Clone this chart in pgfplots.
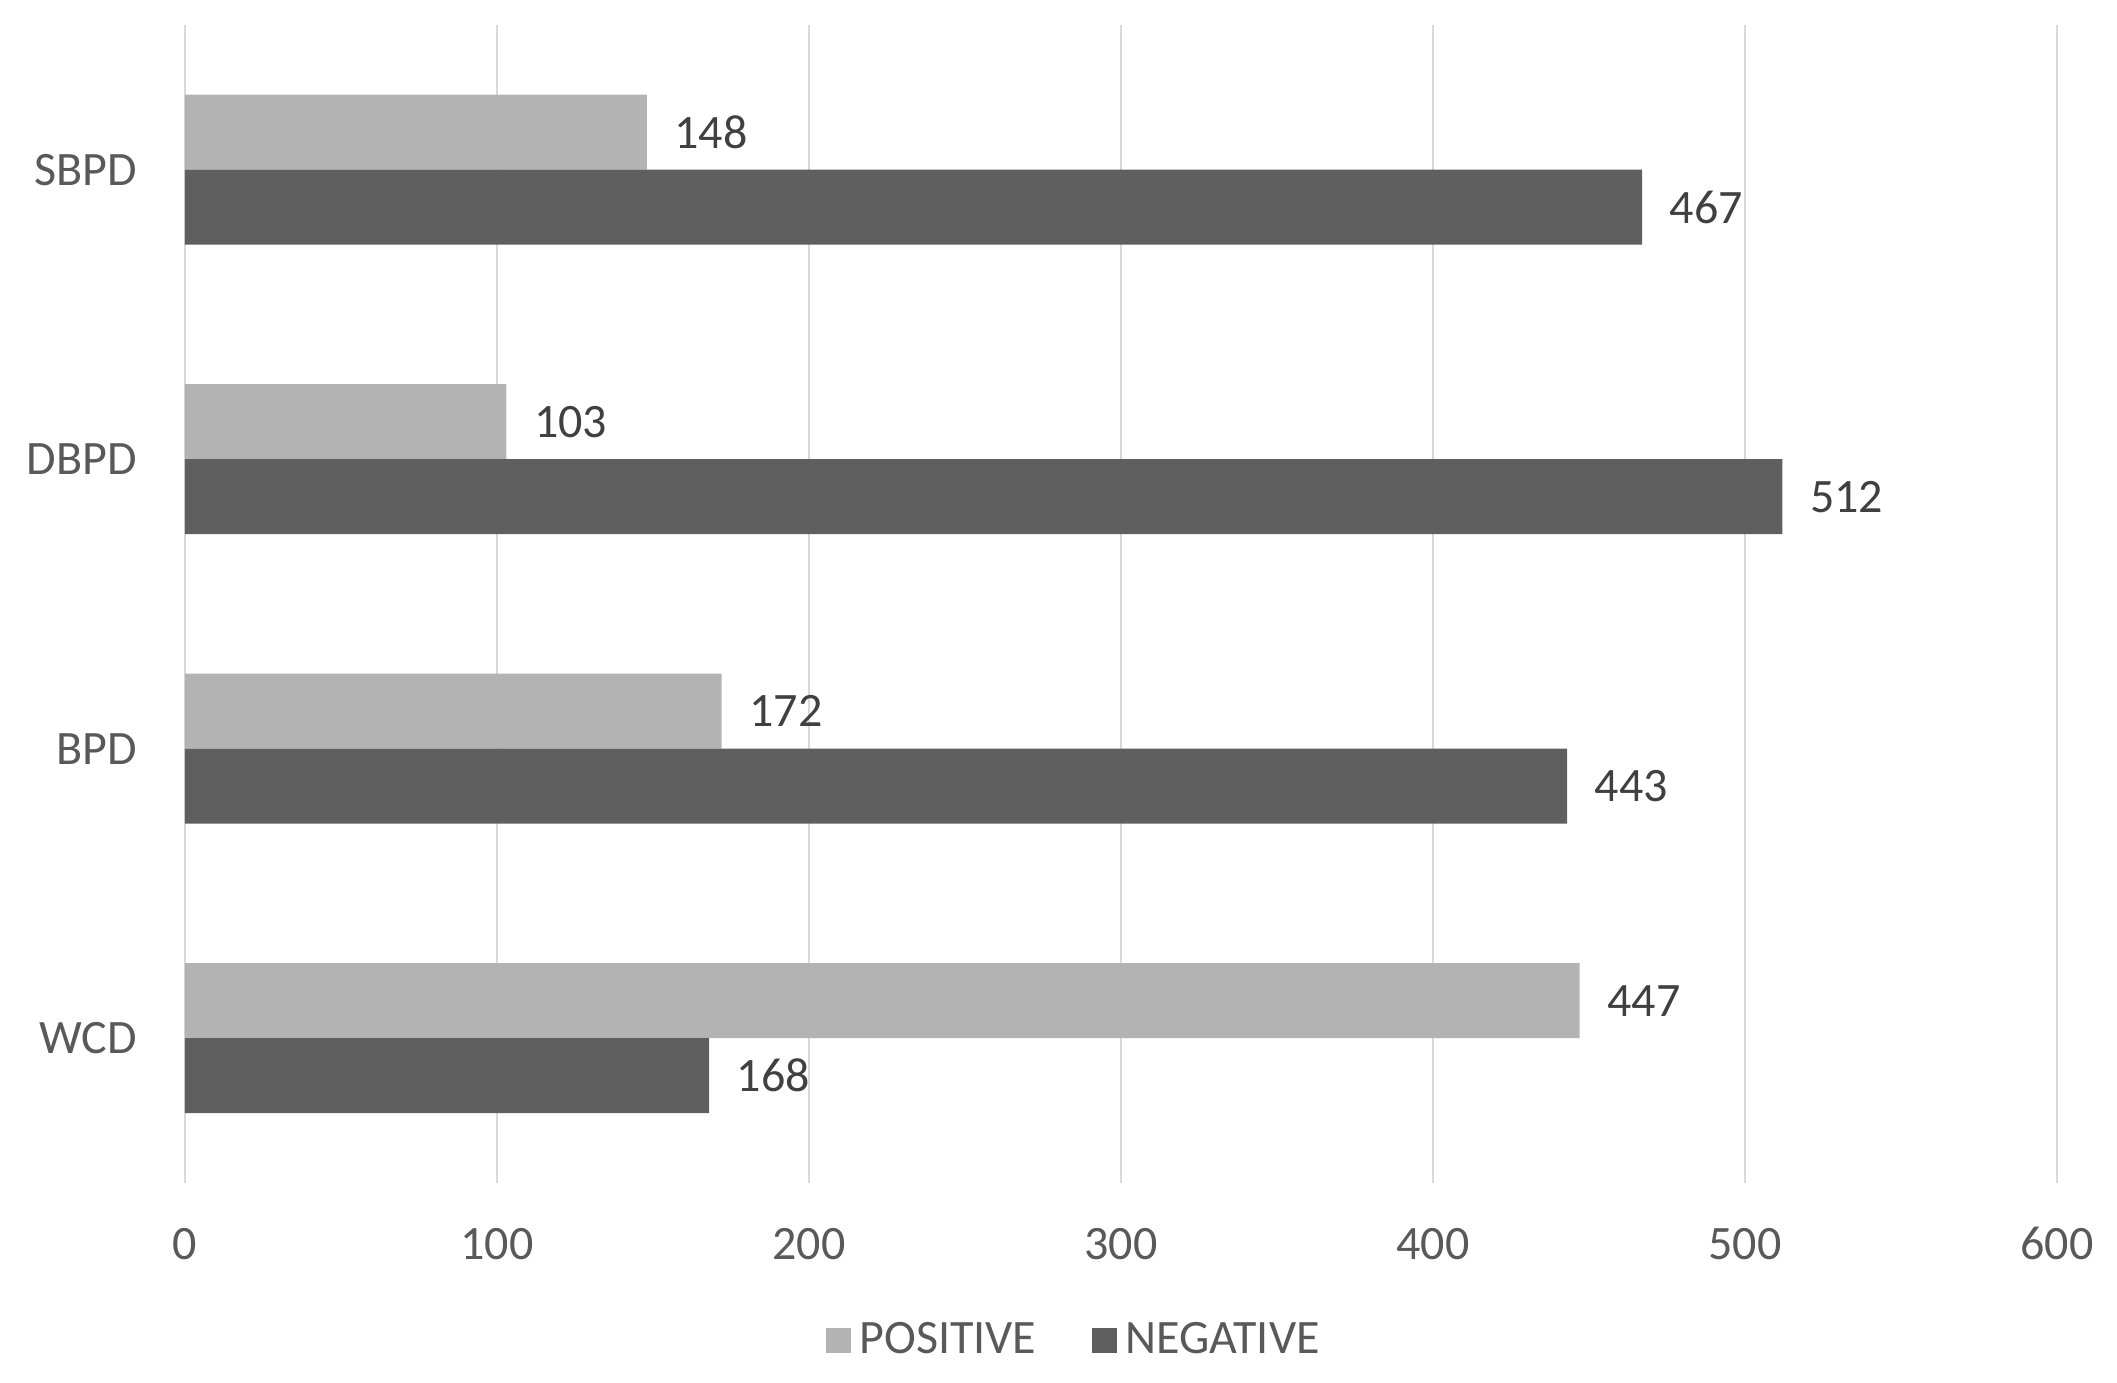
\documentclass[border=0pt]{standalone}
\usepackage{fontspec}
\setmainfont{Carlito}
\usepackage{pgfplots}
\pgfplotsset{compat=1.18}
\definecolor{posc}{HTML}{B3B3B3}
\definecolor{negc}{HTML}{5F5F5F}
\definecolor{gridc}{HTML}{D9D9D9}
\definecolor{txtc}{HTML}{595959}
\definecolor{lblc}{HTML}{404040}
\begin{document}
\begin{tikzpicture}
\begin{axis}[
  scale only axis, width=468pt, height=289.5pt,
  xmin=0, xmax=600, ymin=-0.5, ymax=3.5,
  xtick={0,100,...,600}, ytick={0,1,2,3},
  yticklabels={WCD,BPD,DBPD,SBPD},
  xmajorgrids, grid style={gridc, line width=0.6pt},
  axis line style={draw=none}, major tick length=0pt,
  tick label style={font=\fontsize{12}{14}\selectfont, text=txtc},
  /pgf/number format/assume math mode=true,
  xticklabel style={anchor=base, yshift=-19.25pt},
  yticklabel style={anchor=east, xshift=-8.5pt},
  xbar, bar width=18.75pt,
  nodes near coords,
  nodes near coords style={font=\fontsize{12}{14}\selectfont, text=lblc, anchor=west, inner sep=0pt, xshift=6.75pt},
  legend style={at={(axis description cs:0.4765,-0.1364)}, anchor=center, draw=none, fill=none,
    legend columns=2, font=\fontsize{12}{14}\selectfont, text=txtc,
    /tikz/every even column/.append style={column sep=12pt}},
  legend image code/.code={\fill[#1] (0pt,-3.125pt) rectangle (6.25pt,3.125pt);},
]
\addplot[fill=posc, draw=none, bar shift=9.375pt] coordinates {(447,0) (172,1) (103,2) (148,3)};
\addplot[fill=negc, draw=none, bar shift=-9.375pt] coordinates {(168,0) (443,1) (512,2) (467,3)};
\legend{POSITIVE, NEGATIVE}
\end{axis}
\pgfresetboundingbox
\path[use as bounding box] ([xshift=-46.25pt,yshift=-50pt]current axis.south west) rectangle ([xshift=15pt,yshift=6.25pt]current axis.north east);
\end{tikzpicture}
\end{document}
